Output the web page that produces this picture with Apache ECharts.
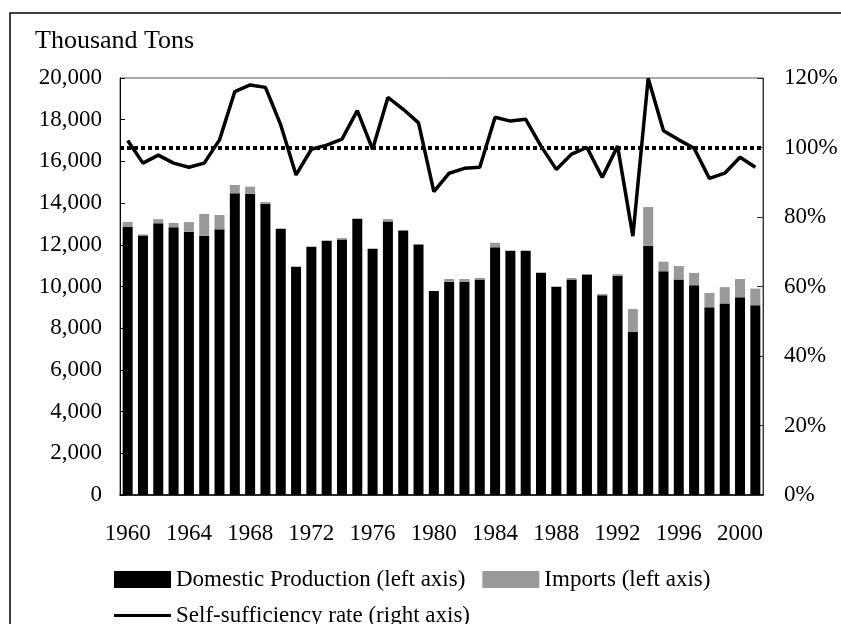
<!DOCTYPE html>
<html>
<head>
<meta charset="utf-8">
<script src="https://cdn.jsdelivr.net/npm/echarts@6/dist/echarts.min.js"></script>
<style>
  html, body { margin: 0; padding: 0; background: #fff; }
  #main { width: 841px; height: 624px; }
</style>
</head>
<body>
<div id="main"></div>
<script>
// years 1960-2001
var years = ["1960","1961","1962","1963","1964","1965","1966","1967","1968","1969",
             "1970","1971","1972","1973","1974","1975","1976","1977","1978","1979",
             "1980","1981","1982","1983","1984","1985","1986","1987","1988","1989",
             "1990","1991","1992","1993","1994","1995","1996","1997","1998","1999",
             "2000","2001"];
// domestic production, thousand tons
var domestic = [12850,12450,13030,12840,12630,12440,12740,14470,14440,13970,
                12770,10950,11910,12200,12260,13250,11810,13120,12680,12010,
                9780,10230,10230,10340,11880,11720,11720,10660,9990,10340,
                10570,9580,10520,7820,11960,10730,10340,10060,9000,9190,
                9480,9100];
// imports, thousand tons
var imports = [250,50,200,210,460,1040,690,400,350,80,
               0,0,0,0,60,0,0,110,0,0,
               0,130,130,70,220,0,0,0,0,70,
               20,60,70,1100,1850,460,640,590,690,780,
               880,800];
// self-sufficiency rate, %
var rate = [102.0,95.5,97.8,95.5,94.3,95.5,102.2,116.1,118.0,117.3,
            106.5,92.1,99.5,100.7,102.4,110.6,99.5,114.4,111.0,107.1,
            87.3,92.6,94.0,94.3,108.7,107.6,108.1,100.4,93.7,98.1,
            100.0,91.4,100.4,74.5,119.9,104.8,102.2,99.8,91.1,92.6,
            97.2,94.3];
var fullLine = 100;

var font = "'Liberation Serif', 'Times New Roman', serif";
var myChart = echarts.init(document.getElementById('main'));

var option = {
  animation: false,
  title: {
    text: 'Thousand Tons',
    left: 30,
    top: 23,
    textStyle: { fontFamily: font, fontSize: 26, fontWeight: 'normal', color: '#000' }
  },
  graphic: [
    {
      type: 'rect',
      shape: { x: 10, y: 13, width: 900, height: 700 },
      style: { fill: 'none', stroke: '#000', lineWidth: 1.5 },
      silent: true
    }
  ],
  legend: [
    {
      data: ['Domestic Production (left axis)', 'Imports (left axis)'],
      icon: 'rect',
      left: 109,
      top: 563,
      itemWidth: 57,
      itemHeight: 17,
      itemGap: 17,
      textStyle: { fontFamily: font, fontSize: 23, color: '#000' }
    },
    {
      // 细线图例，不带圆点
      data: [{ name: 'Self-sufficiency rate (right axis)', icon: 'rect' }],
      left: 109,
      top: 599,
      itemWidth: 57,
      itemHeight: 3,
      itemStyle: { color: '#000' },
      textStyle: { fontFamily: font, fontSize: 23, color: '#000' }
    }
  ],
  grid: {
    left: 120,
    right: 78,
    top: 78,
    bottom: 129,
    show: true,
    borderColor: '#555',
    borderWidth: 1
  },
  xAxis: {
    type: 'category',
    data: years,
    axisLine: { lineStyle: { color: '#000', width: 1.5 } },
    axisTick: {
      inside: true,
      length: 4,
      interval: 0,
      lineStyle: { color: '#aaa' }
    },
    axisLabel: {
      interval: 3,
      margin: 27,
      fontFamily: font,
      fontSize: 23,
      color: '#000'
    }
  },
  yAxis: [
    {
      type: 'value',
      min: 0,
      max: 20000,
      interval: 2000,
      axisLine: { show: true, lineStyle: { color: '#000' } },
      axisTick: { show: true, inside: true, length: 5, lineStyle: { color: '#000' } },
      splitLine: { show: false },
      axisLabel: {
        margin: 18,
        fontFamily: font,
        fontSize: 23,
        color: '#000',
        formatter: function (v) { return v.toLocaleString('en-US'); }
      }
    },
    {
      type: 'value',
      min: 0,
      max: 120,
      interval: 20,
      position: 'right',
      axisLine: { show: true, lineStyle: { color: '#333' } },
      axisTick: { show: true, inside: true, length: 6, lineStyle: { color: '#333' } },
      splitLine: { show: false },
      axisLabel: {
        margin: 21,
        fontFamily: font,
        fontSize: 23,
        color: '#000',
        formatter: '{value}%'
      }
    }
  ],
  series: [
    {
      name: 'Domestic Production (left axis)',
      type: 'bar',
      stack: 'supply',
      barWidth: 10,
      itemStyle: { color: '#000' },
      data: domestic
    },
    {
      name: 'Imports (left axis)',
      type: 'bar',
      stack: 'supply',
      barWidth: 10,
      itemStyle: { color: '#999' },
      data: imports
    },
    {
      name: 'Self-sufficiency rate (right axis)',
      type: 'line',
      yAxisIndex: 1,
      symbol: 'none',
      lineStyle: { color: '#000', width: 3.5 },
      itemStyle: { color: '#000' },
      data: rate,
      markLine: {
        silent: true,
        symbol: ['none', 'none'],
        label: { show: false },
        lineStyle: { color: '#000', width: 4, type: [4, 3] },
        data: [{ yAxis: fullLine }]
      }
    }
  ]
};

myChart.setOption(option);
</script>
</body>
</html>
